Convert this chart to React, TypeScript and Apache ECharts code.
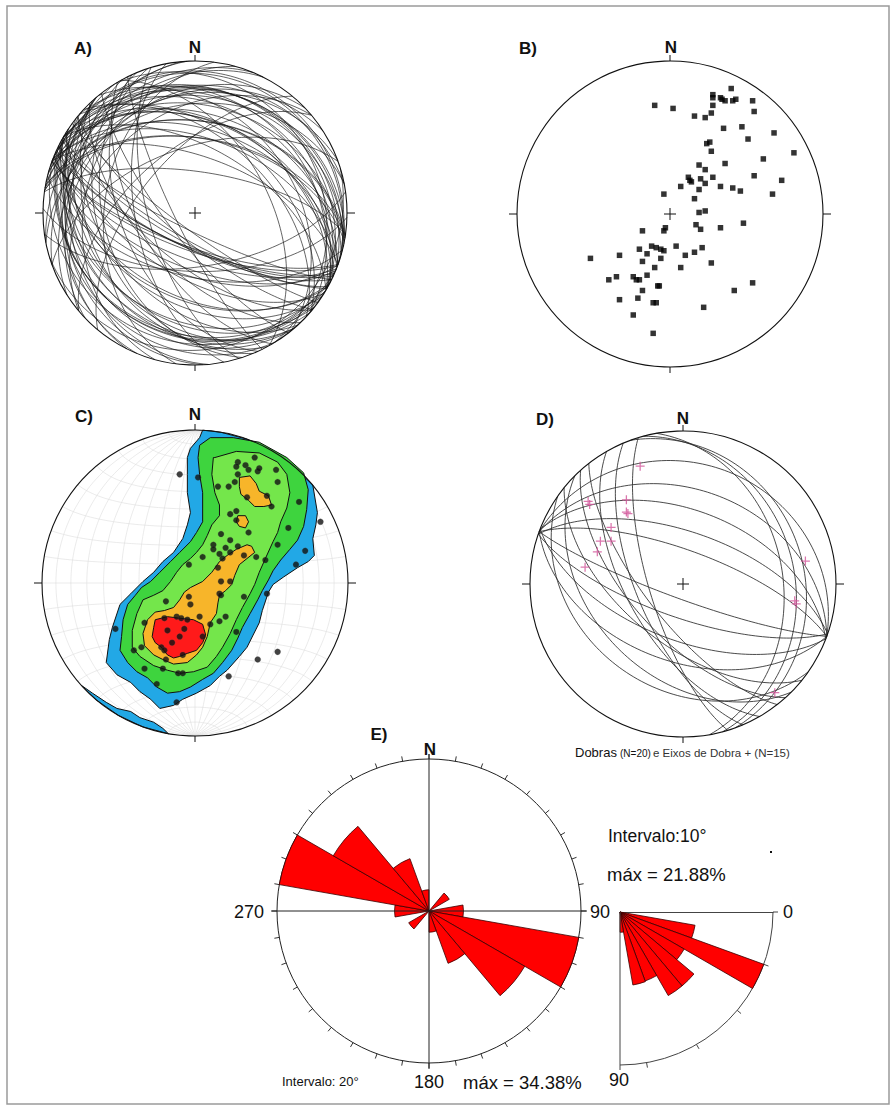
import React, { useEffect, useRef } from "react";
import * as echarts from "echarts";

const FONT = "'Liberation Sans', Arial, Helvetica, sans-serif";

// ---------- A & B: poles to foliation planes (equal-area net position, x = east, y = north, unit radius)
const foliationPoles: [number, number][] = [
  [0.40, 0.82], [0.28, 0.78], [0.28, 0.76], [0.33, 0.76], [0.34, 0.75], [0.36, 0.74], [0.41, 0.74], [0.43, 0.75], [0.54, 0.74], [-0.10, 0.71],
  [0.02, 0.69], [0.28, 0.71], [0.27, 0.66], [0.23, 0.63], [0.16, 0.64], [0.55, 0.67], [0.35, 0.56], [0.47, 0.57], [0.68, 0.53], [0.51, 0.49],
  [0.26, 0.47], [0.24, 0.46], [0.27, 0.41], [0.81, 0.40], [0.61, 0.36], [0.36, 0.33], [0.19, 0.32], [0.23, 0.29], [0.12, 0.24], [0.13, 0.22],
  [0.14, 0.21], [0.20, 0.23], [0.28, 0.24], [0.55, 0.25], [0.73, 0.22], [0.07, 0.18], [0.23, 0.20], [0.19, 0.16], [0.33, 0.18], [0.41, 0.17],
  [0.46, 0.15], [0.67, 0.13], [-0.04, 0.13], [0.16, 0.10], [0.19, 0.01], [0.23, 0.02], [0.48, -0.06], [0.17, -0.07], [0.20, -0.10], [0.33, -0.09],
  [-0.03, -0.09], [-0.04, -0.11], [-0.18, -0.11], [0.04, -0.21], [0.21, -0.22], [0.16, -0.25], [0.10, -0.27], [-0.12, -0.21], [-0.09, -0.22], [-0.06, -0.23],
  [-0.04, -0.24], [-0.20, -0.23], [-0.33, -0.27], [-0.52, -0.29], [-0.15, -0.26], [-0.18, -0.31], [-0.06, -0.29], [0.27, -0.32], [0.07, -0.35], [-0.10, -0.35],
  [-0.35, -0.41], [-0.40, -0.43], [-0.24, -0.41], [-0.22, -0.43], [-0.20, -0.43], [-0.15, -0.40], [-0.08, -0.47], [-0.07, -0.47], [-0.18, -0.50], [0.54, -0.45],
  [0.42, -0.50], [-0.33, -0.56], [-0.21, -0.55], [-0.11, -0.58], [-0.09, -0.58], [0.22, -0.61], [-0.24, -0.66], [-0.11, -0.78],
];

// ---------- C: poles used for the density diagram
const densityPoles: [number, number][] = [
  [-0.10, 0.71], [0.02, 0.69], [0.28, 0.79], [0.27, 0.76], [0.33, 0.77], [0.35, 0.74], [0.41, 0.73], [0.42, 0.75], [0.39, 0.82], [0.53, 0.74],
  [0.54, 0.66], [0.28, 0.71], [0.26, 0.66], [0.22, 0.63], [0.15, 0.63], [0.34, 0.56], [0.47, 0.57], [0.50, 0.50], [0.68, 0.53], [0.82, 0.40],
  [0.61, 0.36], [0.23, 0.45], [0.27, 0.47], [0.27, 0.41], [0.35, 0.33], [0.17, 0.32], [0.23, 0.28], [0.12, 0.25], [0.12, 0.22], [0.16, 0.19],
  [0.20, 0.23], [0.23, 0.20], [0.28, 0.24], [0.18, 0.16], [0.05, 0.17], [-0.04, 0.12], [0.32, 0.18], [0.40, 0.17], [0.46, 0.15], [0.54, 0.25],
  [0.72, 0.21], [0.66, 0.12], [0.15, 0.10], [0.17, 0.01], [0.23, 0.01], [0.16, -0.07], [0.47, -0.07], [-0.19, -0.12], [-0.04, -0.09], [-0.03, -0.14],
  [0.17, -0.08], [0.32, -0.09], [0.03, -0.22], [-0.12, -0.22], [-0.09, -0.23], [-0.05, -0.24], [-0.20, -0.23], [-0.33, -0.26], [-0.52, -0.30], [0.10, -0.27],
  [0.16, -0.25], [0.20, -0.22], [-0.18, -0.31], [-0.07, -0.30], [-0.10, -0.35], [0.05, -0.35], [0.27, -0.32], [-0.15, -0.39], [-0.22, -0.42], [-0.20, -0.44],
  [-0.08, -0.47], [-0.35, -0.42], [-0.40, -0.44], [-0.19, -0.50], [-0.33, -0.56], [-0.21, -0.56], [-0.11, -0.59], [-0.08, -0.59], [0.22, -0.61], [-0.25, -0.66],
  [-0.12, -0.78], [0.41, -0.50], [0.54, -0.45],
];

// density contour outlines (net coordinates), lowest level first
const contourLevel1: [number, number][] = [
  [0.05, 0.999], [0.17, 0.985], [0.34, 0.94], [0.5, 0.866], [0.64, 0.766], [0.77, 0.64], [0.80, 0.46], [0.79, 0.38], [0.77, 0.29], [0.78, 0.18],
  [0.74, 0.14], [0.67, 0.10], [0.58, 0.04], [0.51, -0.01], [0.48, -0.06], [0.44, -0.18], [0.42, -0.26], [0.38, -0.34], [0.34, -0.42], [0.29, -0.48],
  [0.21, -0.57], [0.16, -0.61], [0.10, -0.67], [0.01, -0.72], [-0.08, -0.76], [-0.14, -0.80], [-0.23, -0.82], [-0.29, -0.76], [-0.36, -0.71], [-0.42, -0.65],
  [-0.51, -0.60], [-0.58, -0.52], [-0.56, -0.37], [-0.54, -0.29], [-0.49, -0.14], [-0.42, -0.07], [-0.34, 0.01], [-0.27, 0.07], [-0.21, 0.14], [-0.14, 0.20],
  [-0.08, 0.29], [-0.05, 0.38], [-0.03, 0.46], [-0.05, 0.59], [-0.05, 0.71], [-0.05, 0.82], [-0.03, 0.88], [0.03, 0.95],
];
const contourLevel1Edge: [number, number][] = [
  [-0.174, -0.985], [-0.342, -0.94], [-0.5, -0.866], [-0.643, -0.766], [-0.743, -0.669], [-0.67, -0.72], [-0.58, -0.78], [-0.51, -0.82],
  [-0.42, -0.84], [-0.36, -0.88], [-0.27, -0.91], [-0.21, -0.95],
];
const contourLevel2: [number, number][] = [
  [0.10, 0.95], [0.25, 0.95], [0.42, 0.92], [0.60, 0.82], [0.71, 0.72], [0.74, 0.61], [0.73, 0.48], [0.71, 0.37], [0.67, 0.28], [0.62, 0.22],
  [0.56, 0.15], [0.51, 0.08], [0.48, 0.02], [0.44, -0.05], [0.41, -0.11], [0.36, -0.20], [0.31, -0.29], [0.28, -0.36], [0.24, -0.44], [0.18, -0.52],
  [0.12, -0.59], [0.05, -0.63], [-0.03, -0.68], [-0.10, -0.71], [-0.18, -0.72], [-0.25, -0.68], [-0.31, -0.62], [-0.38, -0.58], [-0.44, -0.52], [-0.49, -0.44],
  [-0.48, -0.35], [-0.47, -0.24], [-0.44, -0.14], [-0.39, -0.08], [-0.35, -0.03], [-0.29, 0.01], [-0.23, 0.07], [-0.16, 0.14], [-0.10, 0.20], [-0.03, 0.27],
  [0.01, 0.33], [0.05, 0.40], [0.05, 0.49], [0.05, 0.59], [0.03, 0.71], [0.02, 0.82], [0.03, 0.90],
];
const contourLevel3: [number, number][] = [
  [0.13, 0.82], [0.27, 0.86], [0.42, 0.85], [0.54, 0.79], [0.60, 0.71], [0.62, 0.59], [0.60, 0.49], [0.56, 0.40], [0.54, 0.33], [0.51, 0.27],
  [0.46, 0.16], [0.42, 0.07], [0.39, -0.01], [0.36, -0.07], [0.31, -0.16], [0.27, -0.24], [0.23, -0.33], [0.18, -0.42], [0.14, -0.48], [0.08, -0.55],
  [-0.01, -0.58], [-0.10, -0.59], [-0.18, -0.57], [-0.27, -0.54], [-0.36, -0.48], [-0.41, -0.42], [-0.41, -0.31], [-0.38, -0.20], [-0.34, -0.11], [-0.27, -0.08],
  [-0.21, -0.05], [-0.16, 0.01], [-0.12, 0.07], [-0.08, 0.12], [-0.03, 0.16], [0.01, 0.20], [0.05, 0.25], [0.08, 0.31], [0.11, 0.38], [0.16, 0.44],
  [0.16, 0.51], [0.13, 0.59], [0.11, 0.71], [0.12, 0.82],
];
const contourLevel4North: [number, number][] = [
  [0.29, 0.69], [0.36, 0.70], [0.40, 0.65], [0.42, 0.60], [0.48, 0.57], [0.50, 0.51], [0.45, 0.50], [0.39, 0.50], [0.35, 0.54], [0.30, 0.58], [0.29, 0.63],
];
const contourLevel4Small: [number, number][] = [
  [0.28, 0.44], [0.33, 0.44], [0.35, 0.40], [0.33, 0.36], [0.29, 0.37], [0.27, 0.40],
];
const contourLevel4Main: [number, number][] = [
  [0.34, 0.25], [0.37, 0.24], [0.39, 0.20], [0.34, 0.16], [0.29, 0.12], [0.26, 0.05], [0.24, -0.01], [0.20, -0.05], [0.16, -0.08], [0.15, -0.13],
  [0.14, -0.20], [0.10, -0.26], [0.08, -0.35], [0.05, -0.42], [0.01, -0.47], [-0.05, -0.52], [-0.14, -0.53], [-0.21, -0.50], [-0.27, -0.47], [-0.33, -0.41],
  [-0.34, -0.33], [-0.31, -0.24], [-0.26, -0.19], [-0.20, -0.18], [-0.14, -0.16], [-0.10, -0.11], [-0.07, -0.06], [-0.03, -0.03], [0.05, 0.01], [0.11, 0.07],
  [0.16, 0.14], [0.21, 0.18], [0.27, 0.22],
];
const contourLevel5: [number, number][] = [
  [-0.27, -0.29], [-0.26, -0.24], [-0.18, -0.22], [-0.10, -0.23], [-0.01, -0.24], [0.05, -0.27], [0.07, -0.34], [0.05, -0.39], [0.01, -0.44], [-0.05, -0.46],
  [-0.10, -0.48], [-0.14, -0.49], [-0.18, -0.47], [-0.22, -0.42], [-0.26, -0.39], [-0.28, -0.35],
];

// ---------- D: folded surfaces (dip direction, dip) and fold axes (net position)
const foldedPlanes: [number, number][] = [
  [20, 22], [20, 38], [21, 50], [19, 62], [20, 72],
  [200, 48], [201, 60], [199, 72], [200, 82],
  [219, 58], [228, 62], [232, 70], [240, 60], [247, 65], [253, 72],
  [75, 28], [80, 35], [70, 22],
  [215, 32], [225, 40],
];
const foldAxes: [number, number][] = [
  [-0.28, 0.77], [-0.62, 0.54], [-0.61, 0.52], [-0.37, 0.55], [-0.37, 0.47], [-0.36, 0.46], [-0.47, 0.37], [-0.54, 0.28],
  [-0.47, 0.28], [-0.56, 0.21], [-0.64, 0.11], [0.80, 0.15], [0.74, -0.13], [0.73, -0.11], [0.60, -0.71],
];

// ---------- E: rose diagrams
const strikeBins = ["0-20", "20-40", "40-60", "60-80", "80-100", "100-120", "120-140", "140-160", "160-180",
  "180-200", "200-220", "220-240", "240-260", "260-280", "280-300", "300-320", "320-340", "340-360"];
const strikePercent = [0, 0, 5.3, 0, 7.8, 34.38, 25.0, 12.6, 4.8, 0, 0, 5.3, 0, 7.8, 34.38, 25.0, 12.6, 4.8];
const strikeMax = 34.38;
const dipBins = ["0-10", "10-20", "20-30", "30-40", "40-50", "50-60", "60-70", "70-80", "80-90"];
const dipPercent = [0, 10.9, 21.88, 10.6, 13.8, 13.8, 10.5, 10.6, 2.9];
const dipMax = 21.88;

// ---------- geometry helpers (lower hemisphere, equal-area)
const D2R = Math.PI / 180;
function project(e: number, n: number, d: number): [number, number] {
  if (d < 0) { e = -e; n = -n; d = -d; }
  const r = Math.sqrt(Math.max(0, 1 - d));
  const h = Math.hypot(e, n);
  if (h < 1e-9) return [0, 0];
  return [(r * e) / h, (r * n) / h];
}
function greatCircle(dipDir: number, dip: number): [number, number][] {
  const s = (dipDir - 90) * D2R, dd = dipDir * D2R, dp = dip * D2R;
  const pts: [number, number][] = [];
  for (let t = 0; t <= 180; t += 2) {
    const c = Math.cos(t * D2R), sn = Math.sin(t * D2R);
    const e = c * Math.sin(s) + sn * Math.sin(dd) * Math.cos(dp);
    const n = c * Math.cos(s) + sn * Math.cos(dd) * Math.cos(dp);
    const d = sn * Math.sin(dp);
    pts.push(project(e, n, d));
  }
  return pts;
}
function smallCircle(alpha: number, sign: number): [number, number][] {
  const a = alpha * D2R;
  const pts: [number, number][] = [];
  for (let f = 0; f <= 180; f += 3) {
    const p = f * D2R;
    pts.push(project(Math.sin(a) * Math.cos(p), sign * Math.cos(a), Math.sin(a) * Math.sin(p)));
  }
  return pts;
}
function poleToPlane([x, y]: [number, number]): [number, number] {
  const r = Math.hypot(x, y);
  const d = Math.min(1, 1 - r * r);
  const plunge = Math.asin(d) / D2R;
  const trend = Math.atan2(x, y) / D2R;
  return [(trend + 180 + 360) % 360, 90 - plunge];
}

const App: React.FC = () => {
  const ref = useRef<HTMLDivElement>(null);
  useEffect(() => {
    document.body.style.margin = "0";
    const chart = echarts.init(ref.current!, null, { renderer: "svg" });

    const nets = [
      { cx: 195, cy: 213, r: 152, cross: true },
      { cx: 670, cy: 214, r: 153, cross: true },
      { cx: 195, cy: 583, r: 153, cross: false },
      { cx: 683, cy: 584, r: 153, cross: true },
    ];
    const grids = nets.map((n) => ({ left: n.cx - n.r, top: n.cy - n.r, width: 2 * n.r, height: 2 * n.r }));
    const xAxes = nets.map((_, i) => ({ gridIndex: i, type: "value", min: -1, max: 1, show: false }));
    const yAxes = nets.map((_, i) => ({ gridIndex: i, type: "value", min: -1, max: 1, show: false }));

    const frame = (gi: number, cross: boolean) => ({
      type: "custom", coordinateSystem: "cartesian2d", xAxisIndex: gi, yAxisIndex: gi, silent: true, z: 6,
      data: [[0, 0]],
      renderItem: (_p: any, api: any) => {
        const c = api.coord([0, 0]);
        const e = api.coord([1, 0]);
        const R = e[0] - c[0];
        const st = { stroke: "#111", lineWidth: 1 };
        const children: any[] = [
          { type: "circle", shape: { cx: c[0], cy: c[1], r: R }, style: { fill: "none", stroke: "#111", lineWidth: 1.1 } },
          { type: "line", shape: { x1: c[0], y1: c[1] - R, x2: c[0], y2: c[1] - R - 6 }, style: st },
          { type: "line", shape: { x1: c[0], y1: c[1] + R, x2: c[0], y2: c[1] + R + 6 }, style: st },
          { type: "line", shape: { x1: c[0] - R - 8, y1: c[1], x2: c[0] - R, y2: c[1] }, style: st },
          { type: "line", shape: { x1: c[0] + R, y1: c[1], x2: c[0] + R + 8, y2: c[1] }, style: st },
        ];
        if (cross) {
          children.push({ type: "line", shape: { x1: c[0] - 6, y1: c[1], x2: c[0] + 6, y2: c[1] }, style: st });
          children.push({ type: "line", shape: { x1: c[0], y1: c[1] - 6, x2: c[0], y2: c[1] + 6 }, style: st });
        }
        return { type: "group", children };
      },
    });

    const aCircles = foliationPoles.map((p) => {
      const [dd, dip] = poleToPlane(p);
      return { coords: greatCircle(dd, dip) };
    });
    const dCircles = foldedPlanes.map(([dd, dip]) => ({ coords: greatCircle(dd, dip) }));

    const netLines: { coords: [number, number][] }[] = [];
    for (let a = 10; a <= 80; a += 10) {
      netLines.push({ coords: greatCircle(90, a) });
      netLines.push({ coords: greatCircle(270, a) });
      netLines.push({ coords: smallCircle(a, 1) });
      netLines.push({ coords: smallCircle(a, -1) });
    }
    netLines.push({ coords: greatCircle(90, 90) });
    netLines.push({ coords: greatCircle(0, 90) });

    const CONTOUR_COLORS = ["#22a8e6", "#3ed43e", "#74e64b", "#f7b52a", "#ff1a1a"];
    const contourShapes = [
      { pts: contourLevel1, color: CONTOUR_COLORS[0] },
      { pts: contourLevel1Edge, color: CONTOUR_COLORS[0] },
      { pts: contourLevel2, color: CONTOUR_COLORS[1] },
      { pts: contourLevel3, color: CONTOUR_COLORS[2] },
      { pts: contourLevel4North, color: CONTOUR_COLORS[3] },
      { pts: contourLevel4Small, color: CONTOUR_COLORS[3] },
      { pts: contourLevel4Main, color: CONTOUR_COLORS[3] },
      { pts: contourLevel5, color: CONTOUR_COLORS[4] },
    ];

    const txt = (text: string, x: number, y: number, size: number, bold = false, align = "center", fill = "#111") => ({
      type: "text", x, y, z: 100, silent: true,
      style: {
        text, fill, fontSize: size, fontWeight: bold ? "bold" : "normal", fontFamily: FONT,
        textAlign: align, verticalAlign: "middle", textVerticalAlign: "middle",
      },
    });
    const ln = (x1: number, y1: number, x2: number, y2: number, color = "#222") => ({
      type: "line", z: 50, silent: true, shape: { x1, y1, x2, y2 }, style: { stroke: color, lineWidth: 1 },
    });

    const E = { cx: 429, cy: 911, r: 152 };
    const S = { cx: 620, cy: 912, r: 153 };

    const option: any = {
      animation: false,
      backgroundColor: "#ffffff",
      grid: grids,
      xAxis: xAxes,
      yAxis: yAxes,
      polar: [
        { center: [E.cx, E.cy], radius: E.r },
        { center: [E.cx, E.cy], radius: E.r },
        { center: [S.cx, S.cy], radius: S.r },
      ],
      angleAxis: [
        { polarIndex: 0, type: "category", data: strikeBins, startAngle: 90, clockwise: true, boundaryGap: true, show: false },
        {
          polarIndex: 1, type: "value", min: 0, max: 360, interval: 10, startAngle: 90, clockwise: true,
          axisLine: { show: true, lineStyle: { color: "#222", width: 1 } },
          axisTick: { show: true, length: 5, lineStyle: { color: "#333", width: 1 } },
          axisLabel: { show: false }, splitLine: { show: false },
        },
        {
          polarIndex: 2, type: "category", data: dipBins, startAngle: 0, endAngle: -90, clockwise: true, boundaryGap: true,
          axisLine: { show: true, lineStyle: { color: "#444", width: 1 } },
          axisTick: { show: true, length: 5, lineStyle: { color: "#444", width: 1 } },
          axisLabel: { show: false }, splitLine: { show: false },
        },
      ],
      radiusAxis: [
        { polarIndex: 0, type: "value", min: 0, max: strikeMax, show: false },
        { polarIndex: 1, type: "value", min: 0, max: 1, show: false },
        {
          polarIndex: 2, type: "value", min: 0, max: dipMax,
          axisLine: { show: true, lineStyle: { color: "#444", width: 1 } },
          axisTick: { show: false }, axisLabel: { show: false }, splitLine: { show: false },
        },
      ],
      series: [
        // A
        {
          type: "lines", coordinateSystem: "cartesian2d", xAxisIndex: 0, yAxisIndex: 0, polyline: true, silent: true, z: 3,
          data: aCircles, lineStyle: { color: "#151515", width: 0.7, opacity: 0.95 },
        },
        frame(0, true),
        // B
        {
          type: "scatter", xAxisIndex: 1, yAxisIndex: 1, data: foliationPoles, symbol: "rect", symbolSize: 5.5, z: 4,
          itemStyle: { color: "#000" }, silent: true,
        },
        frame(1, true),
        // C
        {
          type: "lines", coordinateSystem: "cartesian2d", xAxisIndex: 2, yAxisIndex: 2, polyline: true, silent: true, z: 1,
          data: netLines, lineStyle: { color: "#dedede", width: 0.6, opacity: 1 },
        },
        {
          type: "custom", coordinateSystem: "cartesian2d", xAxisIndex: 2, yAxisIndex: 2, silent: true, z: 2,
          data: contourShapes.map(() => [0, 0]),
          renderItem: (params: any, api: any) => {
            const shp = contourShapes[params.dataIndex];
            return {
              type: "polygon",
              shape: { points: shp.pts.map((p) => api.coord(p)) },
              style: { fill: shp.color, stroke: "#111", lineWidth: 1 },
            };
          },
        },
        {
          type: "scatter", xAxisIndex: 2, yAxisIndex: 2, data: densityPoles, symbol: "circle", symbolSize: 6, z: 4,
          itemStyle: { color: "#111", borderColor: "#555", borderWidth: 0.3 }, silent: true,
        },
        frame(2, false),
        // D
        {
          type: "lines", coordinateSystem: "cartesian2d", xAxisIndex: 3, yAxisIndex: 3, polyline: true, silent: true, z: 3,
          data: dCircles, lineStyle: { color: "#2a2a2a", width: 0.85, opacity: 1 },
        },
        {
          type: "scatter", xAxisIndex: 3, yAxisIndex: 3, data: foldAxes, z: 4, silent: true,
          symbol: "path://M-1,-0.14H1V0.14H-1Z M-0.14,-1H0.14V1H-0.14Z", symbolSize: 9,
          itemStyle: { color: "#d2559a" },
        },
        frame(3, true),
        // E
        {
          type: "bar", coordinateSystem: "polar", polarIndex: 0, data: strikePercent, barCategoryGap: "0%", z: 3, silent: true,
          itemStyle: { color: "#ff0000", borderColor: "#3a0000", borderWidth: 0.8 },
        },
        {
          type: "bar", coordinateSystem: "polar", polarIndex: 2, data: dipPercent, barCategoryGap: "0%", z: 3, silent: true,
          itemStyle: { color: "#ff0000", borderColor: "#3a0000", borderWidth: 0.8 },
        },
      ],
      graphic: [
        { type: "rect", z: 0, silent: true, shape: { x: 7, y: 6, width: 882, height: 1098 }, style: { fill: "none", stroke: "#9a9a9a", lineWidth: 1.5 } },
        txt("A)", 83, 48, 17, true),
        txt("N", 195, 47, 17, true),
        txt("B)", 528, 48, 17, true),
        txt("N", 671, 47, 17, true),
        txt("C)", 84, 416, 17, true),
        txt("N", 195, 414, 17, true),
        txt("D)", 545, 419, 17, true),
        txt("N", 683, 418, 17, true),
        txt("Dobras", 575, 752, 13, false, "left"),
        txt("(N=20)", 620, 753, 10, false, "left"),
        txt("e Eixos de Dobra + (N=15)", 653, 753, 11.5, false, "left", "#333"),
        txt("E)", 379, 734, 17, true),
        txt("N", 430, 749, 17, true),
        ln(E.cx, E.cy - E.r - 5, E.cx, E.cy + E.r + 6),
        ln(E.cx - E.r - 6, E.cy, E.cx + E.r + 6, E.cy),
        ln(S.cx, S.cy, S.cx, S.cy + S.r, "#444"),
        txt("270", 249, 912, 18),
        txt("90", 600, 912, 18),
        txt("180", 429, 1082, 18),
        txt("Intervalo: 20°", 282, 1081, 13, false, "left"),
        txt("máx = 34.38%", 463, 1082, 18.5, false, "left"),
        txt("Intervalo:10°", 608, 836, 17.5, false, "left"),
        txt("máx = 21.88%", 607, 874, 18.5, false, "left"),
        txt("0", 788, 912, 18),
        txt("90", 619, 1080, 18),
        { type: "rect", z: 50, silent: true, shape: { x: 770, y: 851, width: 2, height: 2 }, style: { fill: "#111" } },
      ],
    };
    chart.setOption(option);
    return () => chart.dispose();
  }, []);
  return <div ref={ref} style={{ width: 896, height: 1111 }} />;
};

export default App;
